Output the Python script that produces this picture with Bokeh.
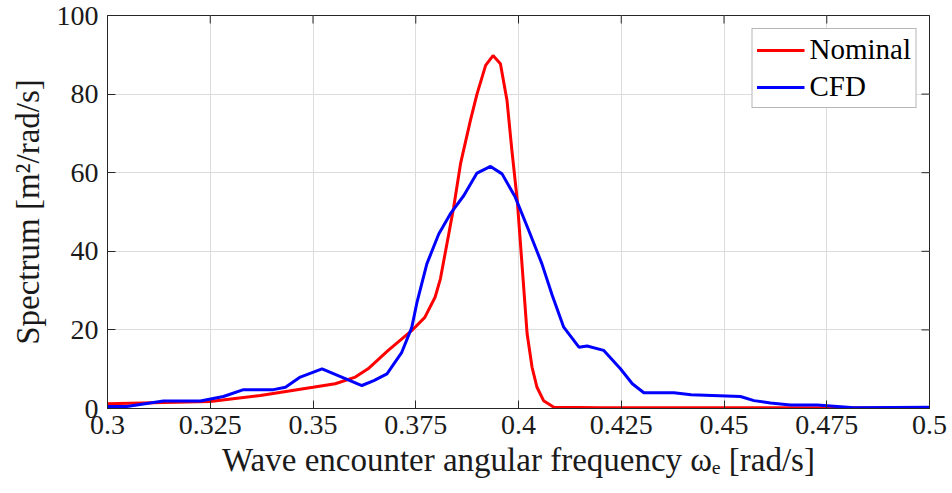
import math
from bokeh.plotting import figure
from bokeh.models import FixedTicker, Range1d, Legend, LegendItem
from bokeh.embed import file_html
from bokeh.resources import INLINE

omega_nominal = [0.300, 0.325, 0.3372, 0.350, 0.3554, 0.3603, 0.3634, 0.3683, 0.3740, 0.3772,
                 0.3797, 0.3810, 0.3826, 0.3842, 0.3859, 0.3883, 0.3899, 0.392, 0.3938, 0.3956,
                 0.3972, 0.3984, 0.3997, 0.4009, 0.4021, 0.4033, 0.4045, 0.4061, 0.4086,
                 0.420, 0.450, 0.500]
spectrum_nominal = [1.2, 1.8, 3.3, 5.4, 6.3, 8.0, 10.1, 14.8, 19.8, 23.2,
                    28.3, 33.0, 42.0, 51.0, 62.3, 73.3, 80.0, 87.3, 89.8, 87.7,
                    78.4, 65.6, 52.9, 36.0, 19.0, 10.5, 5.4, 2.0, 0.3,
                    0.2, 0.2, 0.1]

omega_cfd = [0.300, 0.3047, 0.3136, 0.3226, 0.3282, 0.3331, 0.3404, 0.3433, 0.3469, 0.3522,
             0.3619, 0.3648, 0.368, 0.3716, 0.3740, 0.3753, 0.3777, 0.3806, 0.3834, 0.3867,
             0.3899, 0.3932, 0.396, 0.3992, 0.4025, 0.4057, 0.4082, 0.411, 0.4147, 0.4167,
             0.4207, 0.4248, 0.4277, 0.4305, 0.4378, 0.442, 0.454, 0.4573, 0.4613, 0.4662,
             0.4727, 0.4816, 0.500]
spectrum_cfd = [0.5, 0.5, 1.9, 1.9, 3.05, 4.8, 4.8, 5.4, 8.0, 10.1,
                5.85, 7.1, 8.8, 14.3, 20.5, 27.0, 36.8, 44.4, 49.5, 54.2,
                59.9, 61.6, 59.7, 53.8, 45.3, 36.8, 28.8, 20.7, 15.6, 15.9,
                14.8, 10.1, 6.3, 4.0, 4.0, 3.5, 3.05, 2.0, 1.4, 0.9,
                0.9, 0.2, 0.3]

x_ticks = [0.3, 0.325, 0.35, 0.375, 0.4, 0.425, 0.45, 0.475, 0.5]
x_tick_labels = ["0.3", "0.325", "0.35", "0.375", "0.4", "0.425", "0.45", "0.475", "0.5"]
y_ticks = [0, 20, 40, 60, 80, 100]

FONT = "Liberation Serif"
TICK_FS = "28px"
LABEL_FS = "33px"
AXC = "#262626"

p = figure(width=952, height=493, output_backend="svg", toolbar_location=None,
           x_range=Range1d(0.3, 0.5), y_range=Range1d(0, 100),
           min_border_left=107, min_border_right=23, min_border_top=15, min_border_bottom=85)
p.background_fill_color = "white"
p.border_fill_color = "white"
p.outline_line_color = AXC
p.outline_line_width = 1

p.xgrid.ticker = FixedTicker(ticks=x_ticks)
p.ygrid.ticker = FixedTicker(ticks=y_ticks)
p.grid.grid_line_color = "#dcdcdc"
p.grid.grid_line_width = 1

r1 = p.line(omega_nominal, spectrum_nominal, line_color="#ff0000", line_width=3)
r2 = p.line(omega_cfd, spectrum_cfd, line_color="#0000ff", line_width=3)

# inward tick marks on the top and right edges of the box
p.scatter(x_ticks, [100] * len(x_ticks), marker="dash", size=16, angle=math.pi / 2,
          line_color=AXC, line_width=1)
p.scatter([0.5] * len(y_ticks), y_ticks, marker="dash", size=16,
          line_color=AXC, line_width=1)

for ax in (p.xaxis[0], p.yaxis[0]):
    ax.major_tick_in = 8
    ax.major_tick_out = 0
    ax.minor_tick_in = 0
    ax.minor_tick_out = 0
    ax.axis_line_color = AXC
    ax.major_tick_line_color = AXC
    ax.major_label_text_font = FONT
    ax.major_label_text_font_size = TICK_FS
    ax.major_label_text_color = "#1a1a1a"
    ax.axis_label_text_font = FONT
    ax.axis_label_text_font_size = LABEL_FS
    ax.axis_label_text_font_style = "normal"
    ax.axis_label_text_color = "#1a1a1a"

p.xaxis[0].ticker = FixedTicker(ticks=x_ticks)
p.xaxis[0].major_label_overrides = {t: l for t, l in zip(x_ticks, x_tick_labels)}
p.yaxis[0].ticker = FixedTicker(ticks=y_ticks)
p.xaxis[0].axis_label = "Wave encounter angular frequency ωₑ [rad/s]"
p.yaxis[0].axis_label = "Spectrum [m²/rad/s]"
p.xaxis[0].major_label_standoff = 7
p.yaxis[0].major_label_standoff = 9
p.xaxis[0].axis_label_standoff = 5
p.yaxis[0].axis_label_standoff = 8

legend = Legend(items=[LegendItem(label="Nominal", renderers=[r1]),
                       LegendItem(label="CFD", renderers=[r2])],
                location="top_right")
legend.label_text_font = FONT
legend.label_text_font_size = "29px"
legend.label_text_color = "#000000"
legend.glyph_width = 48
legend.glyph_height = 32
legend.label_height = 32
legend.label_standoff = 5
legend.spacing = 4
legend.padding = 4
legend.margin = 13
legend.border_line_color = "#6e6e6e"
legend.border_line_width = 1
legend.background_fill_color = "white"
legend.background_fill_alpha = 1
p.add_layout(legend, "center")

open("out.html", "w").write(file_html(p, INLINE))
